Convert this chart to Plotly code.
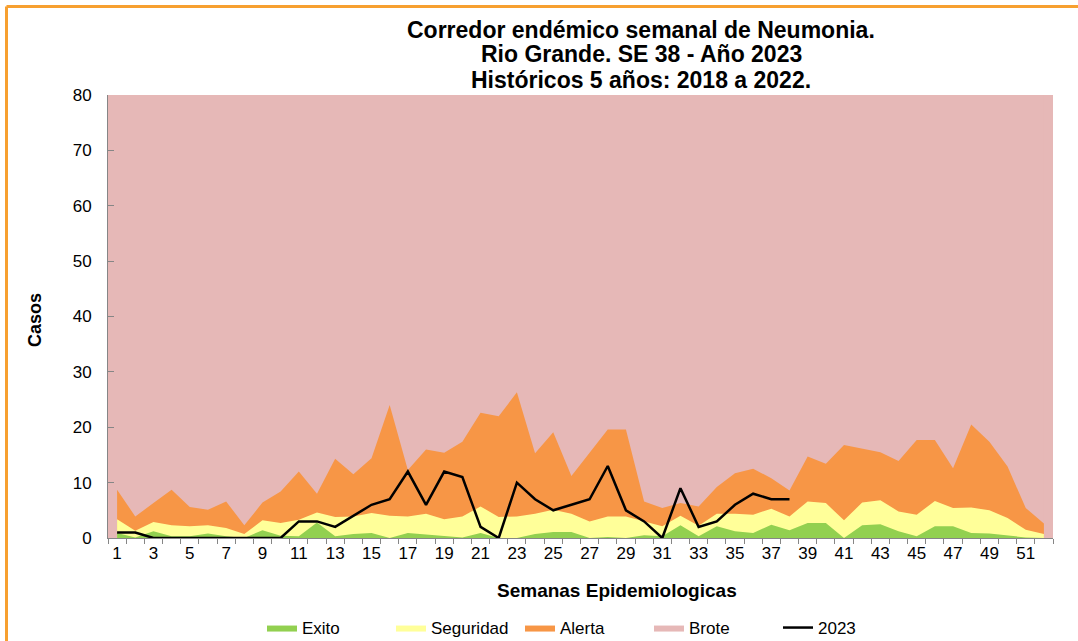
import plotly.graph_objects as go

weeks = list(range(1, 53))
exito = [0.9, 0.1, 1.2, 0.3, 0.3, 0.8, 0.3, 0.0, 1.4, 0.4, 0.3, 2.8, 0.3, 0.7, 0.9, 0.0, 0.9,
         0.6, 0.3, 0.1, 0.9, 0.0, 0.0, 0.7, 1.1, 1.1, 0.0, 0.2, 0.0, 0.5, 0.3, 2.3, 0.3, 2.1,
         1.2, 0.9, 2.4, 1.4, 2.7, 2.7, 0.0, 2.3, 2.5, 1.2, 0.3, 2.1, 2.1, 0.9, 0.8, 0.4, 0.1, 0.0]
seguridad = [3.4, 1.3, 2.9, 2.3, 2.1, 2.3, 1.8, 0.7, 3.2, 2.7, 3.3, 4.6, 3.8, 3.9, 4.5, 4.0, 3.9,
             4.4, 3.4, 3.9, 5.7, 3.8, 3.9, 4.4, 5.1, 4.4, 3.0, 3.9, 3.9, 3.0, 2.1, 4.0, 2.2, 4.4,
             4.4, 4.2, 5.3, 3.9, 6.6, 6.3, 3.2, 6.4, 6.8, 4.8, 4.2, 6.7, 5.4, 5.5, 5.0, 3.6, 1.5, 0.7]
alerta = [8.7, 3.9, 6.3, 8.7, 5.6, 5.1, 6.6, 2.3, 6.4, 8.4, 12.0, 8.0, 14.3, 11.5, 14.4, 24.0, 12.3,
          16.0, 15.4, 17.4, 22.6, 22.0, 26.3, 15.3, 19.1, 11.2, 15.4, 19.6, 19.6, 6.6, 5.4, 6.3, 5.7, 9.2,
          11.7, 12.5, 10.8, 8.6, 14.7, 13.4, 16.8, 16.2, 15.5, 13.9, 17.7, 17.7, 12.6, 20.5, 17.4, 12.9, 5.4, 2.6]
brote = [80] * 52
weeks_2023 = list(range(1, 39))
casos_2023 = [1, 1, 0, 0, 0, 0, 0, 0, 0, 0, 3, 3, 2, 4, 6, 7, 12, 6, 12, 11, 2, 0, 10, 7, 5, 6, 7, 13,
              5, 3, 0, 9, 2, 3, 6, 8, 7, 7]
tick_labels = [str(w) for w in range(1, 52, 2)]
title_lines = ["Corredor endémico semanal de Neumonia.",
               "Rio Grande. SE 38 - Año 2023",
               "Históricos 5 años: 2018 a 2022."]

PINK = "#E6B8B7"
ORANGE = "#F79646"
YELLOW = "#FFFF99"
GREEN = "#92D050"
GRAY = "#868686"
FONT = "Liberation Sans, Arial, sans-serif"

# plot area in pixels
L, R, T, B = 108, 1053, 95, 538
PW, PH = R - L, B - T


def px(x):
    return (x - L) / PW


def py(y):
    return (B - y) / PH


fig = go.Figure()
fig.add_trace(go.Scatter(x=weeks, y=brote, name="Brote", fill="tozeroy", mode="lines",
                         line=dict(width=0, color=PINK), fillcolor=PINK, legendrank=4))
fig.add_trace(go.Scatter(x=weeks, y=alerta, name="Alerta", fill="tozeroy", mode="lines",
                         line=dict(width=0, color=ORANGE), fillcolor=ORANGE, legendrank=3))
fig.add_trace(go.Scatter(x=weeks, y=seguridad, name="Seguridad", fill="tozeroy", mode="lines",
                         line=dict(width=0, color=YELLOW), fillcolor=YELLOW, legendrank=2))
fig.add_trace(go.Scatter(x=weeks, y=exito, name="Exito", fill="tozeroy", mode="lines",
                         line=dict(width=0, color=GREEN), fillcolor=GREEN, legendrank=1))
fig.add_trace(go.Scatter(x=weeks_2023, y=casos_2023, name="2023", mode="lines",
                         line=dict(width=2.5, color="black"), legendrank=5))

annotations = []
for i, (line, yc) in enumerate(zip(title_lines, [30, 54, 80])):
    annotations.append(dict(text="<b>" + line + "</b>", xref="paper", yref="paper",
                            x=px(641), y=py(yc), xanchor="center", yanchor="middle",
                            showarrow=False, font=dict(family=FONT, size=23, color="black")))
annotations += [
    dict(text="<b>Semanas Epidemiologicas</b>", xref="paper", yref="paper",
         x=px(617), y=py(590), xanchor="center", yanchor="middle",
         showarrow=False, font=dict(family=FONT, size=19)),
    dict(text="<b>Casos</b>", xref="paper", yref="paper", textangle=-90,
         x=px(35), y=py(320), xanchor="center", yanchor="middle",
         showarrow=False, font=dict(family=FONT, size=18)),
]

fig.update_layout(
    width=1078, height=641,
    margin=dict(l=L, r=1078 - R, t=T, b=641 - B, autoexpand=False),
    paper_bgcolor="white",
    plot_bgcolor=PINK,
    font=dict(family=FONT, size=16, color="black"),
    showlegend=True,
    legend=dict(orientation="h", x=px(262), xanchor="left", y=py(628), yanchor="middle",
                font=dict(family=FONT, size=17), bgcolor="rgba(0,0,0,0)",
                entrywidth=84, entrywidthmode="pixels", itemwidth=30, tracegroupgap=0),
    xaxis=dict(
        range=[0.5, 52.5], tickmode="array", tickvals=list(range(1, 52, 2)), ticktext=tick_labels,
        ticks="", showgrid=False, zeroline=False, showline=True, linecolor=GRAY, linewidth=1,
        tickfont=dict(family=FONT, size=17),
        minor=dict(tick0=0.5, dtick=1, ticks="outside", ticklen=5, tickcolor=GRAY, showgrid=False),
    ),
    yaxis=dict(
        range=[0, 80], dtick=10, ticks="inside", ticklen=6, tickcolor=GRAY, showgrid=False,
        zeroline=False, showline=True, linecolor=GRAY, linewidth=1,
        tickfont=dict(family=FONT, size=17), ticklabelstandoff=12,
    ),
    annotations=annotations,
    shapes=[
        dict(type="line", xref="paper", yref="paper", x0=px(6.5), x1=px(6.5),
             y0=py(6.5), y1=py(700), line=dict(color="#F7A030", width=3)),
        dict(type="line", xref="paper", yref="paper", x0=px(6.5), x1=px(1090),
             y0=py(6.5), y1=py(6.5), line=dict(color="#F7A030", width=3)),
    ],
)

fig.write_html("out.html", config={"displayModeBar": False},
               post_script="document.body.style.margin='0';document.body.style.overflow='hidden';")
